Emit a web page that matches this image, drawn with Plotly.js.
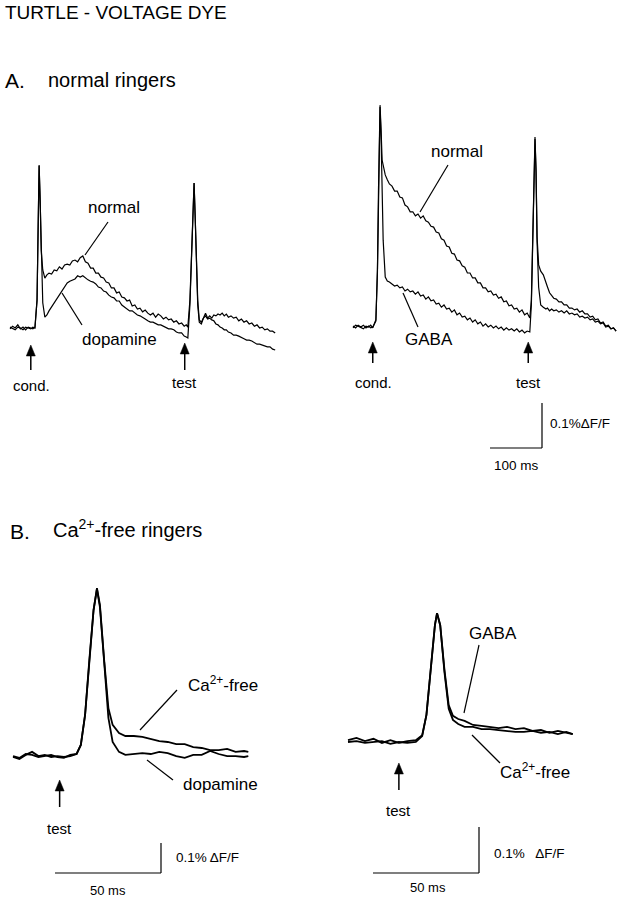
<!DOCTYPE html>
<html><head><meta charset="utf-8">
<script src="https://cdn.plot.ly/plotly-3.0.1.min.js"></script>
<style>html,body{margin:0;padding:0;background:#fff;}#chart{width:622px;height:899px;}</style>
</head><body><div id="chart"></div>
<script>
// ---------- DATA (time in ms, signal in % dF/F) ----------
// Panel A, left: normal vs dopamine (cond. + test stimuli)
const tA_left = [0,5,10,15,20,25,30,35,40,44,48,52,54,56,58,60,63,67,71,75,80,85,90,95,100,105,110,115,120,125,130,135,140,145,150,155,160,165,170,175,180,185,190,195,200,205,210,215,220,225,230,235,240,245,250,255,260,265,270,275,280,285,290,295,300,305,310,315,320,325,330,335,339,342,346,349,352,354,356,358,361,364,368,372,376,380,384,388,392,396,400,404,408,412,416,420,425,430,435,440,445,450,455,460,465,470,475,480,485,490,495,500,505,510];
const normalA_left = [-0.002,0.004,0,0.007,-0.002,0.002,-0.004,0.002,0,-0.002,0.002,0.062,0.218,0.362,0.284,0.173,0.129,0.111,0.118,0.122,0.12,0.129,0.127,0.136,0.131,0.14,0.142,0.14,0.149,0.151,0.147,0.156,0.16,0.147,0.144,0.133,0.133,0.122,0.122,0.113,0.111,0.102,0.1,0.089,0.089,0.078,0.08,0.069,0.067,0.06,0.062,0.049,0.051,0.042,0.044,0.036,0.04,0.033,0.029,0.033,0.024,0.031,0.027,0.02,0.024,0.018,0.02,0.013,0.016,0.009,0.011,0.004,0.007,0.002,0.062,0.173,0.284,0.322,0.251,0.151,0.062,0.018,0.013,0.022,0.033,0.022,0.027,0.022,0.029,0.027,0.031,0.029,0.033,0.027,0.031,0.024,0.027,0.022,0.024,0.016,0.02,0.013,0.016,0.009,0.011,0.004,0.007,0,0.002,-0.004,-0.002,-0.007,-0.007,-0.011];
const dopamineA_left = [0.002,-0.002,-0.004,0.002,0,-0.004,0.002,0,-0.002,0.002,0,0.062,0.218,0.36,0.282,0.173,0.056,0.024,0.029,0.038,0.047,0.056,0.064,0.073,0.082,0.093,0.1,0.104,0.107,0.109,0.116,0.113,0.116,0.111,0.107,0.104,0.102,0.098,0.091,0.089,0.082,0.08,0.073,0.069,0.067,0.06,0.06,0.051,0.047,0.044,0.038,0.038,0.033,0.029,0.027,0.024,0.02,0.016,0.013,0.013,0.009,0.007,0.007,0.004,0.002,-0.002,-0.002,-0.004,-0.009,-0.011,-0.011,-0.018,-0.02,-0.022,0.051,0.173,0.284,0.322,0.251,0.147,0.051,0.013,0.009,0.022,0.027,0.02,0.022,0.018,0.016,0.009,0.007,0.002,0,-0.004,-0.004,-0.009,-0.011,-0.016,-0.016,-0.018,-0.022,-0.024,-0.027,-0.027,-0.029,-0.033,-0.036,-0.036,-0.038,-0.04,-0.042,-0.042,-0.047,-0.049];
// Panel A, right: normal vs GABA
const tA_right = [0,5,10,15,20,25,30,34,38,44,47,49,51,52,54,56,58,62,66,70,75,80,85,90,95,100,105,110,115,120,125,130,135,140,145,150,155,160,165,170,175,180,185,190,195,200,205,210,215,220,225,230,235,240,245,250,255,260,265,270,275,280,285,290,295,300,305,310,315,320,325,330,335,340,343,346,348,350,352,354,357,361,366,371,374,378,382,386,391,396,401,406,411,416,421,426,431,436,441,446,451,456,461,466,471,476,481,486,491,496,501,506];
const normalA_right = [-0.002,0.004,0.002,-0.002,-0.004,0.002,0,0.004,-0.002,0.016,0.127,0.304,0.46,0.493,0.438,0.371,0.36,0.338,0.327,0.318,0.313,0.302,0.302,0.289,0.287,0.271,0.267,0.256,0.256,0.247,0.251,0.242,0.247,0.236,0.233,0.224,0.222,0.211,0.209,0.196,0.193,0.18,0.178,0.164,0.162,0.149,0.147,0.136,0.133,0.12,0.12,0.109,0.109,0.098,0.098,0.087,0.087,0.078,0.08,0.071,0.073,0.064,0.067,0.056,0.058,0.047,0.049,0.04,0.042,0.033,0.038,0.027,0.031,0.02,0.06,0.216,0.349,0.422,0.349,0.2,0.138,0.124,0.116,0.096,0.089,0.076,0.071,0.064,0.062,0.056,0.056,0.049,0.049,0.042,0.042,0.038,0.04,0.033,0.036,0.029,0.029,0.022,0.024,0.016,0.018,0.009,0.011,0.002,0.004,-0.004,-0.002,-0.009];
const gabaA_right = [0.002,-0.002,0.004,0,0.004,-0.002,0.002,-0.002,0,0.013,0.122,0.3,0.456,0.489,0.422,0.282,0.193,0.111,0.102,0.1,0.096,0.091,0.093,0.087,0.089,0.08,0.084,0.078,0.08,0.073,0.078,0.069,0.071,0.062,0.067,0.058,0.06,0.051,0.053,0.044,0.049,0.04,0.042,0.033,0.038,0.027,0.031,0.022,0.024,0.016,0.02,0.011,0.016,0.007,0.011,0.002,0.007,0,0.004,-0.002,0.002,-0.004,0,-0.007,-0.002,-0.007,-0.004,-0.009,-0.004,-0.011,-0.007,-0.013,-0.009,-0.011,0.049,0.216,0.344,0.418,0.344,0.189,0.089,0.049,0.044,0.04,0.042,0.036,0.04,0.036,0.038,0.033,0.036,0.031,0.036,0.029,0.031,0.027,0.029,0.022,0.024,0.02,0.022,0.016,0.018,0.011,0.013,0.007,0.009,0,0.002,-0.004,-0.002,-0.009];
// Panel B, left: Ca2+-free vs dopamine (test only)
const tB_left = [0,3,6,9,12,15,18,21,24,27,30,32,34,36,38,39.6,41,43,45,47,50,53,57,61,65,69,73,77,81,85,89,93,97,101,105,109,111];
const cafreeB_left = [0,-0.007,0.007,0.017,0.003,0.007,0,0.003,0,0.003,0.01,0.04,0.14,0.323,0.49,0.563,0.507,0.323,0.163,0.107,0.08,0.07,0.07,0.067,0.06,0.053,0.05,0.043,0.043,0.033,0.03,0.023,0.023,0.027,0.017,0.02,0.017];
const dopamineB_left = [0.003,-0.003,0.01,0.007,0,0.003,0.007,0,-0.003,0.007,0.01,0.04,0.14,0.323,0.49,0.56,0.5,0.317,0.13,0.05,0.017,0.007,0.01,0.013,0.01,0.017,0.013,0.003,-0.003,0.007,0.007,0.02,0.01,0.003,0.003,0,0.003];
// Panel B, right: GABA vs Ca2+-free
const tB_right = [0,4,8,12,16,20,24,28,32,35,37,39,41,42,43.5,45.5,47.5,49.5,52,55,59,63,67,71,75,79,83,87,91,95,99,103,106];
const gabaB_right = [0.004,0.009,0.002,0.007,-0.002,0.004,-0.002,0.002,0.004,0.015,0.059,0.157,0.254,0.28,0.254,0.157,0.08,0.057,0.05,0.046,0.037,0.035,0.033,0.03,0.033,0.028,0.03,0.024,0.026,0.02,0.024,0.02,0.017];
const cafreeB_right = [0,0.002,-0.002,0,0.002,-0.004,0,-0.002,0,0.013,0.059,0.157,0.254,0.28,0.254,0.152,0.072,0.048,0.039,0.033,0.033,0.028,0.028,0.026,0.024,0.022,0.022,0.024,0.02,0.022,0.017,0.022,0.017];
// stimulus times (ms) and scale bars
const condTimeA_left = 40, testTimeA_left = 336;
const condTimeA_right = 38, testTimeA_right = 337;
const testTimeB_left = 22, testTimeB_right = 24;
const scaleA_ms = 100, scaleA_pct = 0.1;
const scaleB_ms = 50, scaleB_pct = 0.1;

// ---------- LAYOUT ----------
const W = 622, H = 899;
const FONT = 'Liberation Sans, Arial, Helvetica, sans-serif';
// each panel: pixel origin of t=0 / baseline, px per ms, px per % dF/F
const P = {
  AL: {ax:'',  x0:10,  xs:0.52, y0:328, ys:450},
  AR: {ax:'2', x0:353, xs:0.52, y0:327, ys:450},
  BL: {ax:'3', x0:13,  xs:2.12, y0:757, ys:300},
  BR: {ax:'4', x0:348, xs:2.12, y0:742, ys:460}
};
const tOf = (p, x) => (x - P[p].x0) / P[p].xs;
const vOf = (p, y) => (P[p].y0 - y) / P[p].ys;
const xPx = (p, t) => P[p].x0 + t * P[p].xs;
const layout = {
  width: W, height: H, margin: {l:0, r:0, t:0, b:0},
  paper_bgcolor: '#fff', plot_bgcolor: 'rgba(0,0,0,0)',
  showlegend: false, font: {family: FONT, color: '#000'},
  shapes: [], annotations: []
};
for (const k in P) {
  const p = P[k];
  layout['xaxis' + p.ax] = {domain:[0,1], range:[-p.x0/p.xs, (W-p.x0)/p.xs], visible:false, fixedrange:true, anchor:'y'+p.ax};
  layout['yaxis' + p.ax] = {domain:[0,1], range:[(p.y0-H)/p.ys, p.y0/p.ys], visible:false, fixedrange:true, anchor:'x'+p.ax};
}
const traces = [];
function tr(p, t, v, w) {
  traces.push({type:'scatter', mode:'lines', x:t, y:v, xaxis:'x'+P[p].ax, yaxis:'y'+P[p].ax,
    line:{color:'#000', width:w}, hoverinfo:'skip'});
}
tr('AL', tA_left, normalA_left, 1.2);
tr('AL', tA_left, dopamineA_left, 1.2);
tr('AR', tA_right, normalA_right, 1.2);
tr('AR', tA_right, gabaA_right, 1.2);
tr('BL', tB_left, cafreeB_left, 1.8);
tr('BL', tB_left, dopamineB_left, 1.8);
tr('BR', tB_right, gabaB_right, 1.8);
tr('BR', tB_right, cafreeB_right, 1.8);

// text
function T(text, x, y, size, xa) {
  layout.annotations.push({text:text, xref:'paper', yref:'paper', x:x/W, y:1-y/H,
    xanchor:xa||'center', yanchor:'middle', showarrow:false, font:{size:size, family:FONT, color:'#000'}});
}
T('TURTLE - VOLTAGE DYE', 3, 13, 19, 'left');
T('A.', 3, 80, 21, 'left');
T('normal ringers', 46, 80, 20, 'left');
T('normal', 114, 208, 17);
T('dopamine', 120, 340, 17);
T('cond.', 31, 385, 15);
T('test', 184, 383, 15);
T('normal', 457, 152, 17);
T('GABA', 429, 340, 17);
T('cond.', 373, 383, 15);
T('test', 528, 383, 15);
T('0.1%\u0394F/F', 548, 423, 13.5, 'left');
T('100 ms', 516, 465, 13.5);
T('B.', 8, 531, 21, 'left');
T('Ca<sup>2+</sup>-free ringers', 51, 528, 20, 'left');
T('Ca<sup>2+</sup>-free', 186, 684, 17, 'left');
T('dopamine', 220, 784, 17);
T('test', 59, 828, 15);
T('0.1% \u0394F/F', 174, 857, 13.5, 'left');
T('50 ms', 108, 890, 13);
T('GABA', 493, 633, 17);
T('Ca<sup>2+</sup>-free', 498, 771, 17, 'left');
T('test', 398, 810, 15);
T('0.1%   \u0394F/F', 492, 853, 13.5, 'left');
T('50 ms', 428, 887, 13);

// leader lines (pixel positions of label pointers)
function L(x1, y1, x2, y2, w) {
  layout.shapes.push({type:'line', xref:'paper', yref:'paper', x0:x1/W, y0:1-y1/H, x1:x2/W, y1:1-y2/H, line:{color:'#000', width:w||1.2}});
}
L(108,222,85,255);
L(62,293,82,325);
L(448,165,420,212);
L(403,293,418,327);
L(177,690,140,730);
L(147,760,173,780);
L(479,645,464,713);
L(472,735,500,763);

// stimulus arrows: filled head + shaft, placed at the stimulus time
function A(p, t, tipY, len) {
  const x = xPx(p, t), hw = 4.5, hh = 11;
  const fx = v => (v / W).toFixed(5), fy = v => (1 - v / H).toFixed(5);
  layout.shapes.push({type:'path', xref:'paper', yref:'paper',
    path:'M' + fx(x) + ',' + fy(tipY) + ' L' + fx(x + hw) + ',' + fy(tipY + hh) + ' L' + fx(x - hw) + ',' + fy(tipY + hh) + ' Z',
    fillcolor:'#000', line:{color:'#000', width:0.5}});
  L(x, tipY + hh - 1, x, tipY + len, 1.5);
}
A('AL', condTimeA_left, 345, 25);
A('AL', testTimeA_left, 343, 27);
A('AR', condTimeA_right, 342, 21);
A('AR', testTimeA_right, 342, 21);
A('BL', testTimeB_left, 780, 27);
A('BR', testTimeB_right, 763, 27);

// scale bars in data units
function S(p, cornerX, cornerY, ms, pct) {
  const t = tOf(p, cornerX), v = vOf(p, cornerY), ax = P[p].ax;
  const ln = {color:'#000', width:1.2};
  layout.shapes.push({type:'line', xref:'x'+ax, yref:'y'+ax, x0:t-ms, y0:v, x1:t, y1:v, line:ln});
  layout.shapes.push({type:'line', xref:'x'+ax, yref:'y'+ax, x0:t, y0:v, x1:t, y1:v+pct, line:ln});
}
S('AR', 542, 448, scaleA_ms, scaleA_pct);
S('BL', 161, 873, scaleB_ms, scaleB_pct);
S('BR', 479, 873, scaleB_ms, scaleB_pct);

Plotly.newPlot('chart', traces, layout, {staticPlot:true, displayModeBar:false});
</script></body></html>
